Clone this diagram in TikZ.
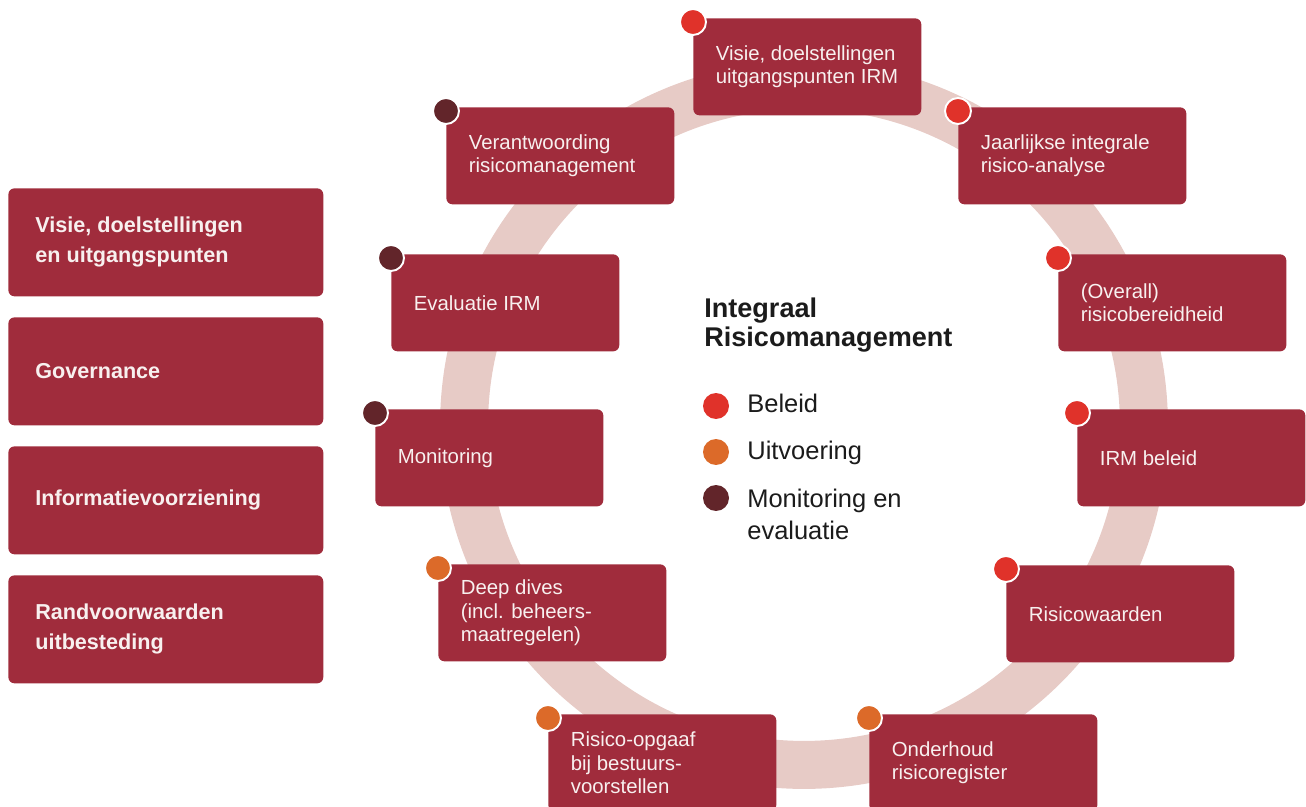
\documentclass[tikz,border=0pt]{standalone}
\usepackage{fontspec}
\setmainfont{Liberation Sans}
\usetikzlibrary{positioning}
\definecolor{Wine}{HTML}{A02C3C}
\definecolor{Blush}{HTML}{E7CBC6}
\definecolor{Beleid}{HTML}{E0322A}
\definecolor{Uitvoering}{HTML}{DC6A29}
\definecolor{Monitor}{HTML}{62252A}
\definecolor{Paper}{HTML}{F8F0EF}
\definecolor{Ink}{HTML}{1B1B1B}
\tikzset{
 card/.style={fill=Wine,rounded corners=3.5pt,anchor=north west,align=flush left,text=Paper,inner xsep=0.45cm,inner ysep=0pt,minimum height=1.94cm,font=\fontsize{11.6}{13.4}\selectfont},
 ringbox/.style={card,text width=3.66cm},
 sidebox/.style={card,inner xsep=0.54cm,text width=5.22cm,minimum height=2.16cm,font=\bfseries\fontsize{12.3}{17}\selectfont},
 marker/.style={circle,fill=#1,draw=white,line width=1.1pt,minimum size=0.52cm,inner sep=0pt},
 legdot/.style={circle,fill=#1,minimum size=0.52cm,inner sep=0pt},
 legtext/.style={anchor=base west,text=Ink,align=left,inner sep=0pt,font=\fontsize{14.5}{18.7}\selectfont},
 title/.style={anchor=base west,text=Ink,align=left,inner sep=0pt,font=\bfseries\fontsize{15.4}{17}\selectfont}
}
\begin{document}
\begin{tikzpicture}[x=0.02cm,y=-0.02cm]
\useasboundingbox (0,0) rectangle (1306,807);
% ring behind the cards
\draw[Blush,line width=0.96cm] (804,425) circle[radius=6.8cm];
% left column
\node[sidebox] (s1) at (8,188) {Visie, doelstellingen\\en uitgangspunten};
\node[sidebox] (s2) at (8,317) {Governance};
\node[sidebox] (s3) at (8,446) {Informatievoorziening};
\node[sidebox] (s4) at (8,575) {Randvoorwaarden\\uitbesteding};
% cycle
\node[ringbox] (b1) at (693,18) {Visie, doelstellingen\\uitgangspunten IRM};
\node[ringbox] (b2) at (958,107) {Jaarlijkse integrale\\risico-analyse};
\node[ringbox] (b3) at (1058,254) {(Overall)\\risicobereidheid};
\node[ringbox] (b4) at (1077,409) {IRM beleid};
\node[ringbox] (b5) at (1006,565) {Risicowaarden};
\node[ringbox] (b6) at (869,714) {Onderhoud\\risicoregister};
\node[ringbox] (b7) at (548,714) {Risico-opgaaf\\bij bestuurs-\\voorstellen};
\node[ringbox] (b8) at (438,564) {Deep dives\\(incl. beheers-\\maatregelen)};
\node[ringbox] (b9) at (375,409) {Monitoring};
\node[ringbox] (b10) at (391,254) {Evaluatie IRM};
\node[ringbox] (b11) at (446,107) {Verantwoording\\risicomanagement};
\foreach \b/\c in {b1/Beleid,b2/Beleid,b3/Beleid,b4/Beleid,b5/Beleid,b6/Uitvoering,b7/Uitvoering,b8/Uitvoering,b9/Monitor,b10/Monitor,b11/Monitor}
 \node[marker=\c] (d\b) at ([yshift=-0.08cm]\b.north west) {};
% centre: title and legend
\node[title] (head) at (704,347) {Integraal\\Risicomanagement};
\node[legdot=Beleid] (l1) at (716,406) {};
\node[legdot=Uitvoering] (l2) at (716,452) {};
\node[legdot=Monitor] (l3) at (716,498) {};
\node[legtext] (t1) at (747,413) {Beleid};
\node[legtext] (t2) at (747,460) {Uitvoering};
\node[legtext] (t3) at (747,540) {Monitoring en\\evaluatie};
\end{tikzpicture}
\end{document}
